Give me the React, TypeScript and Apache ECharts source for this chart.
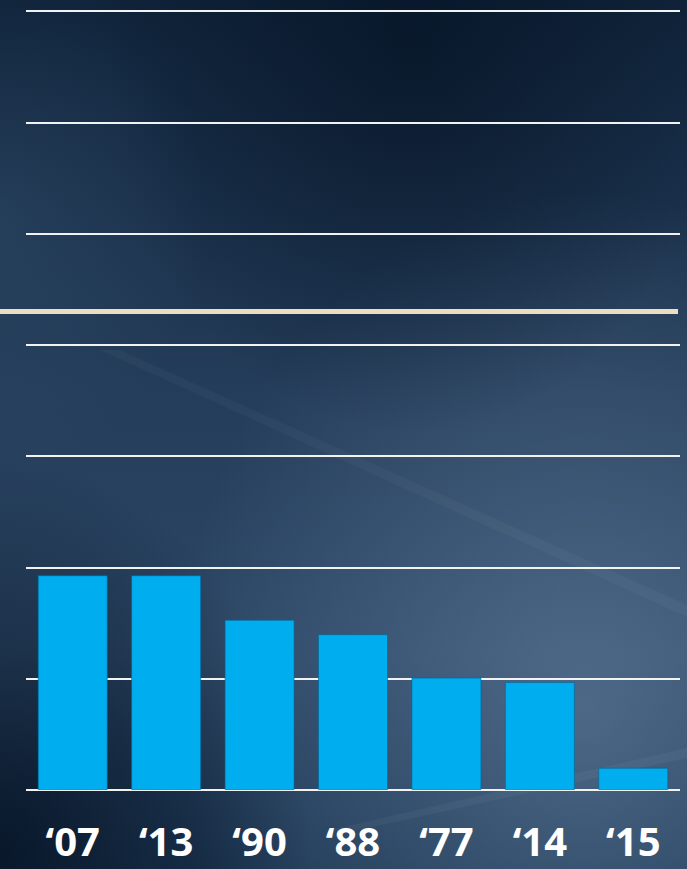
import React, { useEffect, useRef } from "react";
import * as echarts from "echarts";

const categories = ["\u201807", "\u201813", "\u201890", "\u201888", "\u201877", "\u201814", "\u201815"];
const values = [1.93, 1.93, 1.53, 1.40, 1.01, 0.97, 0.20];
const referenceLevel = 4.3;
const yMin = 0;
const yMax = 7;
const yInterval = 1;

export default function App() {
  const ref = useRef<HTMLDivElement>(null);
  useEffect(() => {
    if (!ref.current) return;
    const chart = echarts.init(ref.current, undefined, { renderer: "svg" });
    const W = 687;
    const H = 869;
    chart.setOption({
      animation: false,
      backgroundColor: "#1a3250",
      graphic: [
        {
          type: "rect", left: 0, top: 0, z: -100, silent: true,
          shape: { width: W, height: H },
          style: {
            fill: new echarts.graphic.LinearGradient(0, 0, 0, 1, [
              { offset: 0, color: "#0f233a" },
              { offset: 0.45, color: "#243d5a" },
              { offset: 0.75, color: "#2c4765" },
              { offset: 1, color: "#1c3653" },
            ]),
          },
        },
        {
          type: "rect", left: 0, top: 0, z: -99, silent: true,
          shape: { width: W, height: H },
          style: {
            fill: new echarts.graphic.RadialGradient(0.85, 0.82, 0.6, [
              { offset: 0, color: "rgba(120,150,180,0.45)" },
              { offset: 1, color: "rgba(120,150,180,0)" },
            ]),
          },
        },
        {
          type: "rect", left: 0, top: 0, z: -98, silent: true,
          shape: { width: W, height: H },
          style: {
            fill: new echarts.graphic.RadialGradient(0.0, 0.98, 0.45, [
              { offset: 0, color: "rgba(4,16,32,0.8)" },
              { offset: 1, color: "rgba(4,16,32,0)" },
            ]),
          },
        },
        {
          type: "rect", left: 0, top: 0, z: -97, silent: true,
          shape: { width: W, height: H },
          style: {
            fill: new echarts.graphic.RadialGradient(0.6, 0.05, 0.45, [
              { offset: 0, color: "rgba(4,16,32,0.6)" },
              { offset: 1, color: "rgba(4,16,32,0)" },
            ]),
          },
        },
        {
          type: "rect", left: 0, top: 0, z: -96, silent: true,
          shape: { width: W, height: H },
          style: {
            fill: new echarts.graphic.RadialGradient(0.0, 0.25, 0.3, [
              { offset: 0, color: "rgba(60,90,120,0.3)" },
              { offset: 1, color: "rgba(60,90,120,0)" },
            ]),
          },
        },
        {
          type: "polygon", z: -95, silent: true,
          shape: { points: [[100, 350], [120, 350], [687, 605], [687, 617]] },
          style: { fill: "rgba(255,255,255,0.03)" },
        },
        {
          type: "polygon", z: -95, silent: true,
          shape: { points: [[330, 830], [687, 748], [687, 758], [350, 832]] },
          style: { fill: "rgba(255,255,255,0.04)" },
        },
      ],
      grid: [
        { left: 26, right: 7, top: 11, bottom: 79 },
        { left: 0, right: 9, top: 11, bottom: 79 },
      ],
      xAxis: [
        {
          type: "category",
          gridIndex: 0,
          data: categories,
          axisLine: { show: false },
          axisTick: { show: false },
          axisLabel: {
            color: "#ffffff",
            fontFamily: "'Open Sans', sans-serif",
            fontWeight: "bold",
            fontSize: 40,
            margin: 30,
          },
        },
        { type: "value", gridIndex: 1, min: 0, max: 1, show: false },
      ],
      yAxis: [
        {
          type: "value",
          gridIndex: 0,
          min: yMin,
          max: yMax,
          interval: yInterval,
          axisLabel: { show: false },
          axisLine: { show: false },
          axisTick: { show: false },
          splitLine: { lineStyle: { color: "#f2f2f2", width: 2 } },
        },
        { type: "value", gridIndex: 1, min: yMin, max: yMax, show: false, splitLine: { show: false } },
      ],
      series: [
        {
          type: "bar",
          xAxisIndex: 0,
          yAxisIndex: 0,
          data: values,
          barWidth: 70,
          itemStyle: { color: "#00aeef", borderColor: "rgba(0,100,150,0.6)", borderWidth: 1 },
          z: 3,
        },
        {
          type: "line",
          xAxisIndex: 1,
          yAxisIndex: 1,
          data: [[0, referenceLevel], [1, referenceLevel]],
          symbol: "none",
          lineStyle: { color: "#ecdcc0", width: 5 },
          z: 4,
        },
      ],
    });
    return () => chart.dispose();
  }, []);
  return (
    <div
      ref={ref}
      style={{ position: "fixed", left: 0, top: 0, width: 687, height: 869 }}
    />
  );
}
